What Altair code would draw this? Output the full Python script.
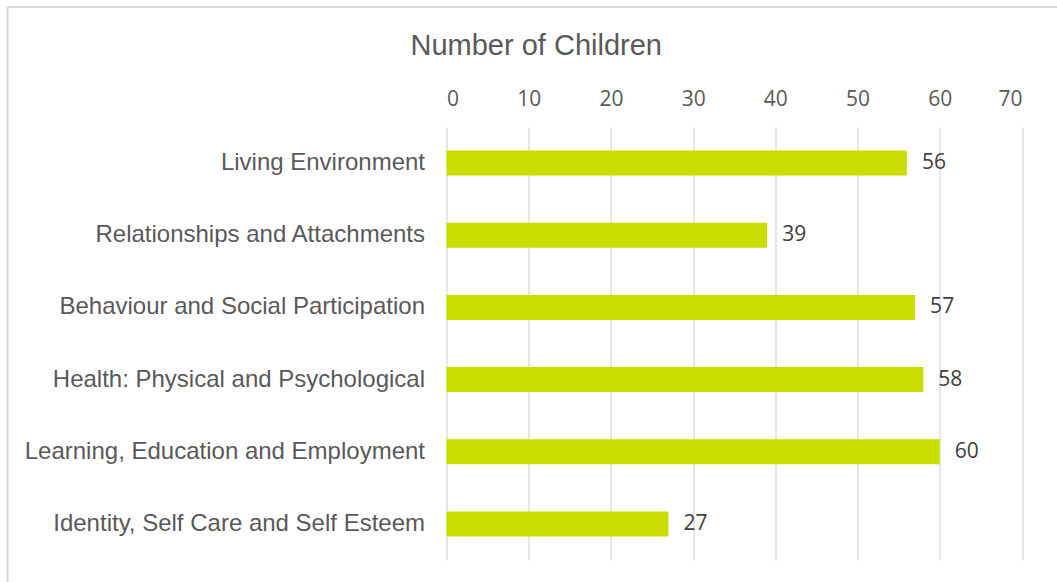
import altair as alt
import pandas as pd

categories = [
    "Living Environment",
    "Relationships and Attachments",
    "Behaviour and Social Participation",
    "Health: Physical and Psychological",
    "Learning, Education and Employment",
    "Identity, Self Care and Self Esteem",
]
values = [56, 39, 57, 58, 60, 27]
x_ticks = [0, 10, 20, 30, 40, 50, 60, 70]
chart_title = "Number of Children"

df = pd.DataFrame({"category": categories, "value": values})

GRID = "#D9D9D9"
TEXT = "#595959"
BAR = "#C9DE00"

x_enc = alt.X(
    "value:Q",
    scale=alt.Scale(domain=[0, 70], nice=False, zero=True),
    axis=alt.Axis(
        orient="top",
        values=x_ticks,
        title=None,
        domain=False,
        ticks=False,
        grid=True,
        gridColor=GRID,
        gridWidth=1.3,
        labelFont="Open Sans",
        labelFontSize=21,
        labelColor=TEXT,
        labelPadding=18,
    ),
)
y_enc = alt.Y(
    "category:N",
    sort=categories,
    scale=alt.Scale(paddingInner=0.654, paddingOuter=0.327),
    axis=alt.Axis(
        title=None,
        domain=False,
        ticks=False,
        grid=False,
        labelFont="Liberation Sans",
        labelFontSize=24,
        labelColor=TEXT,
        labelPadding=22,
        labelLimit=500,
    ),
)

base = alt.Chart(df)
bars = base.mark_bar(color=BAR).encode(x=x_enc, y=y_enc)
labels = base.mark_text(
    align="left", baseline="middle", dx=15, font="Open Sans", fontSize=21, color="#404040"
).encode(x="value:Q", y=alt.Y("category:N", sort=categories), text="value:Q")

single = alt.Data(values=[{"t": chart_title}])
top_border = alt.Chart(single).mark_rule(color="#D9D9D9", strokeWidth=2).encode(
    x=alt.value(-439), x2=alt.value(640), y=alt.value(-120)
)
left_border = alt.Chart(single).mark_rule(color="#D9D9D9", strokeWidth=2).encode(
    x=alt.value(-439), y=alt.value(-120), y2=alt.value(480)
)
title_text = alt.Chart(single).mark_text(
    align="left", baseline="alphabetic", font="Liberation Sans", fontSize=29, color=TEXT
).encode(x=alt.value(-36), y=alt.value(-72.5), text="t:N")

chart = (
    alt.layer(top_border, left_border, bars, labels, title_text)
    .properties(
        width=575.5,
        height=433,
        background="white",
        autosize=alt.AutoSizeParams(type="none"),
        padding={"left": 446.5, "top": 127, "right": 35, "bottom": 22},
    )
    .configure_view(stroke="transparent", strokeWidth=0)
)

chart.save("out.html", embed_options={"renderer": "svg", "actions": False})
